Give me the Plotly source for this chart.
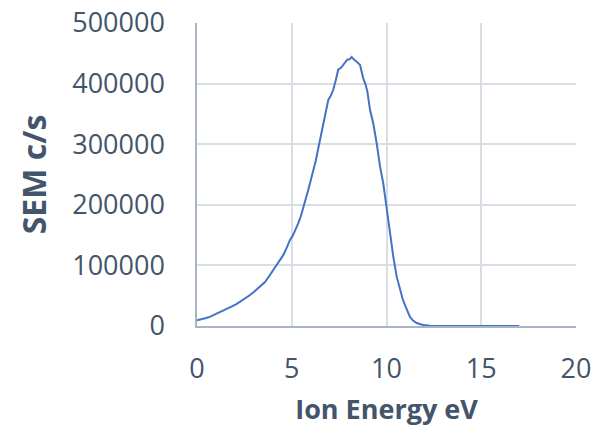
import plotly.graph_objects as go

ion_energy_ev = [0.0, 0.25, 0.49, 0.7, 0.93, 1.15, 1.37, 1.6, 1.9, 2.1, 2.26, 2.5, 2.78, 3.0,
                 3.31, 3.6, 3.84, 4.0, 4.19, 4.4, 4.55, 4.75, 4.9, 5.07, 5.2, 5.34, 5.48, 5.61,
                 5.75, 5.87, 6.0, 6.13, 6.27, 6.4, 6.53, 6.66, 6.8, 6.93, 7.06, 7.19, 7.32, 7.45,
                 7.6, 7.72, 7.83, 7.93, 8.05, 8.16, 8.27, 8.37, 8.5, 8.6, 8.77, 8.9, 8.99, 9.13,
                 9.3, 9.48, 9.66, 9.83, 10.01, 10.19, 10.36, 10.54, 10.71, 10.85, 10.98, 11.1,
                 11.24, 11.4, 11.59, 11.8, 11.95, 12.3, 12.8, 13.7, 15.0, 17.0]
sem_counts = [9400, 11000, 13200, 15500, 18700, 21500, 24800, 28500, 33100, 36500, 39700, 45000,
              50700, 56000, 64500, 73000, 83800, 91000, 100300, 108000, 116900, 130000, 141700,
              150000, 158000, 169300, 181000, 194100, 210000, 224400, 240000, 254700, 273000,
              293300, 312000, 331900, 352000, 373200, 380000, 389800, 405000, 422900, 426000,
              431100, 437000, 439400, 440000, 443800, 440000, 436600, 434000, 431100, 409100,
              398000, 387000, 356700, 334600, 301600, 263000, 235400, 191300, 152700, 114100,
              81000, 59000, 45000, 34200, 24000, 14900, 9000, 5000, 2800, 1700, 550, 150, 0, 0, 0]

text_color = "#44546A"
font_family = "Open Sans, Lato, sans-serif"

fig = go.Figure()
fig.add_trace(go.Scatter(x=ion_energy_ev, y=sem_counts, mode="lines",
                         line=dict(color="#4472C4", width=2), showlegend=False))

fig.update_layout(
    width=595, height=429,
    margin=dict(l=197, r=19, t=23, b=103),
    paper_bgcolor="white", plot_bgcolor="white",
    font=dict(family=font_family, color=text_color, size=27),
    xaxis=dict(
        range=[0, 20], tickvals=[0, 5, 10, 15, 20], ticktext=["0", "5", "10", "15", "20"],
        showgrid=True, gridcolor="#D9DDE4", gridwidth=1.5,
        showline=True, linecolor="#A9B4C4", linewidth=1.5,
        ticks="outside", ticklen=18, tickcolor="rgba(0,0,0,0)",
        tickfont=dict(size=27, color=text_color), ticklabeloverflow="allow",
        zeroline=False, automargin=False,
        title=dict(text="<b>Ion Energy eV</b>", font=dict(size=27, color=text_color), standoff=15),
    ),
    yaxis=dict(
        range=[0, 500000], tickvals=[0, 100000, 200000, 300000, 400000, 500000],
        ticktext=["0", "100000", "200000", "300000", "400000", "500000"],
        showgrid=True, gridcolor="#D9DDE4", gridwidth=1.5,
        showline=True, linecolor="#A9B4C4", linewidth=1.5,
        ticks="outside", ticklen=25, tickcolor="rgba(0,0,0,0)",
        tickfont=dict(size=27, color=text_color), ticklabeloverflow="allow",
        zeroline=False, automargin=False,
        title=dict(text="<b>SEM c/s</b>", font=dict(size=32, color=text_color), standoff=16),
    ),
)

fig.write_html("out.html", config={"displayModeBar": False},
               post_script="document.body.style.margin='0';")
